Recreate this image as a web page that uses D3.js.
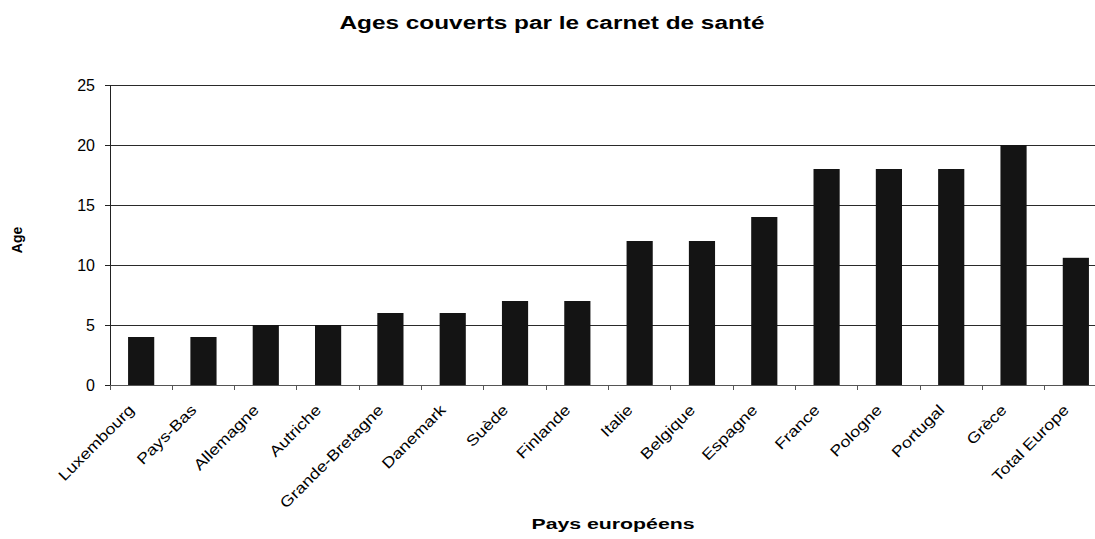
<!DOCTYPE html>
<html>
<head>
<meta charset="utf-8">
<script src="https://cdn.jsdelivr.net/npm/d3@7"></script>
<style>
  body { margin: 0; background: #fff; overflow: hidden; }
  text { font-family: Arial, "Liberation Sans", sans-serif; }
  line { shape-rendering: crispEdges; }
</style>
</head>
<body>
<script>
var pays = ["Luxembourg", "Pays-Bas", "Allemagne", "Autriche", "Grande-Bretagne", "Danemark",
  "Suède", "Finlande", "Italie", "Belgique", "Espagne", "France", "Pologne", "Portugal",
  "Grèce", "Total Europe"];
var ages = [4, 4, 5, 5, 6, 6, 7, 7, 12, 12, 14, 18, 18, 18, 20, 10.6];
var yTicks = [0, 5, 10, 15, 20, 25];

var width = 1095, height = 539;
// plot box (the right edge runs a bit past the picture, as in the scan)
var plotL = 110, plotR = 1107, plotT = 85, plotB = 385;

var svg = d3.select("body").append("svg")
    .attr("width", width)
    .attr("height", height);

var x = d3.scaleBand().domain(pays).range([plotL, plotR]).padding(0);
var y = d3.scaleLinear().domain([0, 25]).range([plotB, plotT]);
var step = x.step();
var barW = step * 0.42;

// gridlines
svg.selectAll("line.grid")
    .data(yTicks.slice(1))
    .enter().append("line")
    .attr("class", "grid")
    .attr("x1", plotL).attr("x2", plotR)
    .attr("y1", function(d) { return y(d); })
    .attr("y2", function(d) { return y(d); })
    .attr("stroke", "#2a2a2a")
    .attr("stroke-width", 1);

// bars
svg.selectAll("rect")
    .data(ages)
    .enter().append("rect")
    .attr("fill", "#141414")
    .attr("x", function(d, i) { return x(pays[i]) + (step - barW) / 2; })
    .attr("width", barW)
    .attr("y", function(d) { return y(d); })
    .attr("height", function(d) { return plotB - y(d); });

// y axis
var yAxis = svg.append("g")
    .attr("transform", "translate(" + plotL + ",0)")
    .call(d3.axisLeft(y).tickValues(yTicks).tickSize(5).tickPadding(10));
yAxis.select(".domain").attr("stroke", "#222").attr("shape-rendering", "crispEdges");
yAxis.selectAll("line").attr("stroke", "#222");
yAxis.selectAll("text").attr("font-size", 16).attr("fill", "#000");

// x axis line + ticks between categories
svg.append("line")
    .attr("x1", plotL).attr("x2", plotR)
    .attr("y1", plotB).attr("y2", plotB)
    .attr("stroke", "#555");
svg.selectAll("line.xtick")
    .data(pays)
    .enter().append("line")
    .attr("class", "xtick")
    .attr("x1", function(d) { return x(d); })
    .attr("x2", function(d) { return x(d); })
    .attr("y1", plotB).attr("y2", plotB + 5)
    .attr("stroke", "#555");

// category labels, rotated
svg.selectAll("text.cat")
    .data(pays)
    .enter().append("text")
    .attr("class", "cat")
    .attr("text-anchor", "end")
    .attr("font-size", 15)
    .attr("transform", function(d) {
      return "translate(" + (x(d) + step / 2 - 6) + "," + (plotB + 26) + ") rotate(-45)";
    })
    .text(function(d) { return d; })
    .each(function() {
      var len = this.getComputedTextLength();
      d3.select(this).attr("textLength", len * 1.2).attr("lengthAdjust", "spacingAndGlyphs");
    });

// titles
svg.append("text")
    .attr("x", 552).attr("y", 29)
    .attr("text-anchor", "middle")
    .attr("font-size", 18).attr("font-weight", "bold")
    .attr("textLength", 425).attr("lengthAdjust", "spacingAndGlyphs")
    .text("Ages couverts par le carnet de santé");

svg.append("text")
    .attr("text-anchor", "middle")
    .attr("font-size", 14).attr("font-weight", "bold")
    .attr("transform", "translate(22,240) rotate(-90)")
    .text("Age");

svg.append("text")
    .attr("x", 613).attr("y", 529)
    .attr("text-anchor", "middle")
    .attr("font-size", 14).attr("font-weight", "bold")
    .attr("textLength", 163).attr("lengthAdjust", "spacingAndGlyphs")
    .text("Pays européens");
</script>
</body>
</html>
